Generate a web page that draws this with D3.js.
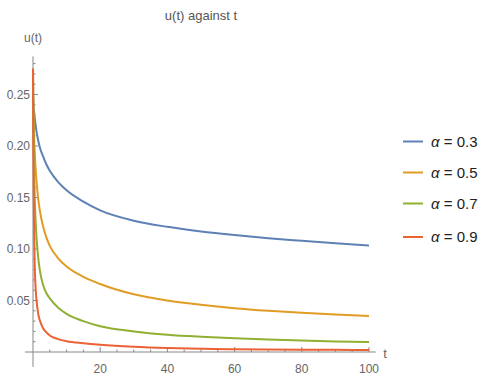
<!DOCTYPE html>
<html>
<head>
<meta charset="utf-8">
<script src="https://cdn.jsdelivr.net/npm/d3@7"></script>
<style>
  html, body { margin: 0; padding: 0; background: #fff; }
  svg { display: block; font-family: "Liberation Sans", Arial, sans-serif; }
</style>
</head>
<body>
<svg id="chart" width="487" height="380"></svg>
<script>
// ---- data ----
const tValues = [0, 0.05, 0.1, 0.2, 0.3, 0.5, 0.75, 1, 1.5, 2, 3, 4, 5, 7.5, 10, 15, 20, 30, 40, 50, 60, 70, 80, 90, 100];
const alpha03 = [0.275, 0.252, 0.245, 0.238, 0.234, 0.228, 0.221, 0.215, 0.206, 0.199, 0.190, 0.182, 0.176, 0.165, 0.157, 0.146, 0.1375, 0.1275, 0.1215, 0.117, 0.1135, 0.1105, 0.108, 0.1056, 0.1034];
const alpha05 = [0.275, 0.250, 0.240, 0.225, 0.212, 0.195, 0.180, 0.168, 0.150, 0.138, 0.122, 0.111, 0.103, 0.091, 0.083, 0.073, 0.066, 0.056, 0.050, 0.0458, 0.0425, 0.0400, 0.0380, 0.0364, 0.0350];
const alpha07 = [0.275, 0.245, 0.228, 0.200, 0.180, 0.152, 0.130, 0.114, 0.093, 0.080, 0.065, 0.057, 0.052, 0.043, 0.037, 0.030, 0.025, 0.020, 0.0168, 0.0148, 0.0133, 0.0121, 0.0111, 0.0103, 0.0097];
const alpha09 = [0.275, 0.230, 0.200, 0.155, 0.125, 0.085, 0.064, 0.052, 0.038, 0.031, 0.023, 0.019, 0.016, 0.0125, 0.0105, 0.0085, 0.0070, 0.0050, 0.0038, 0.0031, 0.0027, 0.0024, 0.0022, 0.0021, 0.0020];
const seriesLabels = ["0.3", "0.5", "0.7", "0.9"];
const seriesValues = [alpha03, alpha05, alpha07, alpha09];
const xTickValues = [20, 40, 60, 80, 100];
const yTickValues = [0.05, 0.10, 0.15, 0.20, 0.25];
const colors = ["#5E81B5", "#E19C24", "#8FB032", "#EB6235"];

// ---- layout ----
const svg = d3.select("#chart");
const x = d3.scaleLinear().domain([0, 100]).range([33, 369]);
const y = d3.scaleLinear().domain([0, 0.25]).range([352, 94.5]);
const axisColor = "#888";
const labelColor = "#666";

// axes lines
const g = svg.append("g");
g.append("line").attr("x1", x(-2.4)).attr("x2", x(102)).attr("y1", y(0)).attr("y2", y(0))
  .attr("stroke", axisColor).attr("stroke-width", 1);
g.append("line").attr("x1", x(0)).attr("x2", x(0)).attr("y1", y(-0.0145)).attr("y2", y(0.287))
  .attr("stroke", axisColor).attr("stroke-width", 1);

// x ticks (inward = upward)
const xMinor = d3.range(5, 101, 5).filter(v => !xTickValues.includes(v));
g.selectAll(".xminor").data(xMinor).enter().append("line")
  .attr("x1", d => x(d)).attr("x2", d => x(d)).attr("y1", y(0)).attr("y2", y(0) - 2.5)
  .attr("stroke", axisColor);
g.selectAll(".xmajor").data(xTickValues).enter().append("line")
  .attr("x1", d => x(d)).attr("x2", d => x(d)).attr("y1", y(0)).attr("y2", y(0) - 5)
  .attr("stroke", axisColor);
g.selectAll(".xlab").data(xTickValues).enter().append("text")
  .attr("x", d => x(d)).attr("y", 373).attr("text-anchor", "middle")
  .attr("font-size", 12).attr("fill", labelColor).text(d => d3.format("d")(d));

// y ticks (inward = rightward)
const yMinor = d3.range(1, 29).map(v => v / 100).filter(v => !yTickValues.some(t => Math.abs(t - v) < 1e-9));
g.selectAll(".yminor").data(yMinor).enter().append("line")
  .attr("x1", x(0)).attr("x2", x(0) + 2.5).attr("y1", d => y(d)).attr("y2", d => y(d))
  .attr("stroke", axisColor);
g.selectAll(".ymajor").data(yTickValues).enter().append("line")
  .attr("x1", x(0)).attr("x2", x(0) + 5).attr("y1", d => y(d)).attr("y2", d => y(d))
  .attr("stroke", axisColor);
g.selectAll(".ylab").data(yTickValues).enter().append("text")
  .attr("x", 30).attr("y", d => y(d) + 4).attr("text-anchor", "end")
  .attr("font-size", 12).attr("fill", labelColor).text(d => d3.format(".2f")(d));

// axis labels and title
svg.append("text").attr("x", 33).attr("y", 42).attr("text-anchor", "middle")
  .attr("font-size", 12).attr("fill", labelColor).text("u(t)");
svg.append("text").attr("x", 385).attr("y", 358).attr("text-anchor", "middle")
  .attr("font-size", 13).attr("fill", labelColor).text("t");
svg.append("text").attr("x", 201).attr("y", 20).attr("text-anchor", "middle")
  .attr("font-size", 13).attr("fill", "#555").text("u(t) against t");

// curves
const line = d3.line().x(d => x(d[0])).y(d => y(d[1])).curve(d3.curveMonotoneX);
const curves = svg.append("g");
seriesValues.forEach((vals, i) => {
  curves.append("path")
    .datum(tValues.map((t, j) => [t, vals[j]]))
    .attr("fill", "none").attr("stroke", colors[i]).attr("stroke-width", 2)
    .attr("stroke-linejoin", "round")
    .attr("d", line);
});

// legend
const legendY = [141.5, 172.5, 203.5, 237];
const leg = svg.append("g");
seriesLabels.forEach((lab, i) => {
  leg.append("line").attr("x1", 403).attr("x2", 423).attr("y1", legendY[i]).attr("y2", legendY[i])
    .attr("stroke", colors[i]).attr("stroke-width", 2);
  const t = leg.append("text").attr("x", 431).attr("y", legendY[i] + 5)
    .attr("font-size", 15).attr("fill", "#222");
  t.append("tspan").attr("font-style", "italic").text("α");
  t.append("tspan").text(" = " + lab);
});
</script>
</body>
</html>
